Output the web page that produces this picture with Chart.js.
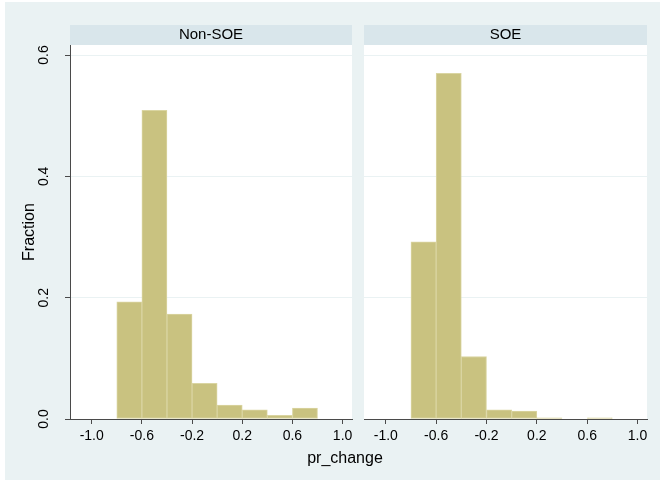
<!DOCTYPE html>
<html>
<head>
<meta charset="utf-8">
<title>pr_change by SOE</title>
<script src="https://cdn.jsdelivr.net/npm/chart.js@4/dist/chart.umd.min.js"></script>
<style>
    body { margin: 0; background: #ffffff; }
    #wrap { position: relative; width: 660px; height: 483px; overflow: hidden; }
    #frame { position: absolute; left: 5px; top: 2px; width: 655px; height: 478px; background: #eaf2f3; }
    canvas { position: absolute; left: 0; top: 0; }
</style>
</head>
<body>
<div id="wrap">
    <div id="frame"></div>
    <canvas id="chartNonSoe" width="660" height="483"></canvas>
    <canvas id="chartSoe" width="660" height="483"></canvas>
</div>
<script>
// histogram bins (width 0.2), fraction of firms per bin
var binCenters = [-0.7, -0.5, -0.3, -0.1, 0.1, 0.3, 0.5, 0.7];
var nonSoeFrac = [0.193, 0.509, 0.173, 0.059, 0.023, 0.015, 0.006, 0.018];
var soeFrac = [0.292, 0.570, 0.103, 0.015, 0.013, 0.002, 0.0, 0.002];
var panelTitles = ['Non-SOE', 'SOE'];
var xTicks = [-1.0, -0.6, -0.2, 0.2, 0.6, 1.0];
var yTicks = [0.0, 0.2, 0.4, 0.6];

var FONT = "'Liberation Sans', Arial, Helvetica, sans-serif";
var BAR_FILL = '#c9c280';
var BAR_EDGE = '#dad5a2';
var HEADER_BG = '#d9e6eb';
var GRID = '#eaf2f3';
var AXIS = '#4a4a4a';

function toPoints(vals) {
    return binCenters.map((c, i) => ({ x: c, y: vals[i] }));
}

// white plot region + grey strip with panel title
var panelPlugin = {
    id: 'panel',
    beforeDraw(chart, args, opts) {
        var a = chart.chartArea, ctx = chart.ctx;
        ctx.save();
        ctx.fillStyle = '#ffffff';
        ctx.fillRect(a.left, a.top, a.right - a.left, a.bottom - a.top + 1);
        ctx.fillStyle = HEADER_BG;
        ctx.fillRect(a.left, a.top - 20, a.right - a.left, 20);
        ctx.fillStyle = '#000';
        ctx.font = '15px ' + FONT;
        ctx.textAlign = 'center';
        ctx.textBaseline = 'middle';
        ctx.fillText(opts.title, (a.left + a.right) / 2, a.top - 10);
        ctx.restore();
    },
    afterDraw(chart, args, opts) {
        var ctx = chart.ctx;
        ctx.save();
        ctx.fillStyle = '#000';
        if (opts.yLabels) {
            // stata style: tick labels turned to read upward
            var ys = chart.scales.y;
            ctx.font = '14px ' + FONT;
            ctx.textAlign = 'center';
            ctx.textBaseline = 'middle';
            ys.ticks.forEach(t => {
                ctx.save();
                ctx.translate(ys.right - 26, ys.getPixelForValue(t.value));
                ctx.rotate(-Math.PI / 2);
                ctx.fillText(t.value.toFixed(1), 0, 0);
                ctx.restore();
            });
        }
        if (opts.xTitle) {
            ctx.font = '16px ' + FONT;
            ctx.textAlign = 'center';
            ctx.textBaseline = 'middle';
            ctx.fillText(opts.xTitle, 345, 459);
        }
        ctx.restore();
    }
};

function makePanel(canvasId, title, values, isFirst) {
    var ctx = document.getElementById(canvasId).getContext('2d');
    return new Chart(ctx, {
        type: 'bar',
        data: {
            datasets: [{
                data: toPoints(values),
                backgroundColor: BAR_FILL,
                borderColor: BAR_EDGE,
                borderWidth: 1,
                borderSkipped: false,
                barPercentage: 1,
                categoryPercentage: 1
            }]
        },
        plugins: [panelPlugin],
        options: {
            responsive: false,
            animation: false,
            devicePixelRatio: 1,
            layout: {
                padding: isFirst
                    ? { top: 45, left: 0, right: 308, bottom: 0 }
                    : { top: 45, left: 364, right: 13, bottom: 0 }
            },
            plugins: {
                legend: { display: false },
                tooltip: { enabled: false },
                panel: { title: title, yLabels: isFirst, xTitle: isFirst ? 'pr_change' : null }
            },
            scales: {
                x: {
                    type: 'linear',
                    min: -1.173,
                    max: 1.075,
                    offset: false,
                    afterBuildTicks: s => { s.ticks = xTicks.map(v => ({ value: v })); },
                    afterFit: s => { s.height = 64; },
                    grid: { display: true, drawOnChartArea: false, drawTicks: true, tickLength: 5, tickColor: AXIS, offset: false },
                    border: { display: true, color: AXIS, width: 1 },
                    ticks: {
                        autoSkip: false,
                        maxRotation: 0,
                        padding: 4,
                        color: '#000',
                        font: { family: FONT, size: 14 },
                        callback: v => v.toFixed(1)
                    }
                },
                y: {
                    min: 0,
                    max: 0.6166,
                    afterBuildTicks: s => { s.ticks = yTicks.map(v => ({ value: v })); },
                    afterFit: s => { s.width = isFirst ? 70 : 0; },
                    grid: { color: GRID, lineWidth: 1, drawTicks: isFirst, tickLength: 5, tickColor: AXIS },
                    border: { display: isFirst, color: AXIS, width: 1 },
                    ticks: { display: false },
                    title: {
                        display: isFirst,
                        text: 'Fraction',
                        color: '#000',
                        font: { family: FONT, size: 16 },
                        padding: { top: 20, bottom: 0 }
                    }
                }
            }
        }
    });
}

makePanel('chartNonSoe', panelTitles[0], nonSoeFrac, true);
makePanel('chartSoe', panelTitles[1], soeFrac, false);
</script>
</body>
</html>
